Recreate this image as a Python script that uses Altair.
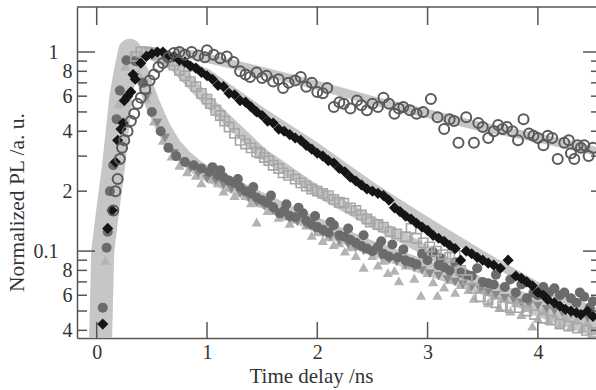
import altair as alt
import pandas as pd

# ---------------- data ----------------
# open circles (slow decay)
oc_t = [0.15,0.17,0.19,0.21,0.23,0.25,0.28,0.31,0.34,0.37,0.40,0.44,0.48,0.52,0.56,0.60,0.65,0.70,0.75,0.80,0.86,0.92,0.98,
        1.00,1.06,1.12,1.18,1.24,1.30,1.35,1.39,1.45,1.50,1.54,1.60,1.65,1.69,1.74,1.80,1.85,1.90,1.95,2.00,2.05,2.09,
        2.15,2.20,2.24,2.30,2.36,2.40,2.45,2.50,2.55,2.60,2.65,2.70,2.74,2.78,2.84,2.90,2.96,3.03,3.09,3.15,3.20,3.24,
        3.28,3.35,3.42,3.46,3.50,3.55,3.60,3.64,3.68,3.72,3.77,3.82,3.87,3.92,3.96,4.00,4.05,4.09,4.13,4.18,4.24,4.28,
        4.30,4.33,4.36,4.39,4.42,4.46,4.50]
oc_y = [0.16,0.20,0.23,0.29,0.33,0.36,0.40,0.45,0.49,0.55,0.59,0.65,0.72,0.77,0.84,0.88,0.94,0.99,1.00,0.97,1.00,0.96,0.94,
        1.02,0.97,0.93,0.95,0.89,0.80,0.77,0.75,0.79,0.74,0.76,0.71,0.73,0.66,0.70,0.72,0.75,0.67,0.70,0.63,0.62,0.66,
        0.53,0.56,0.55,0.52,0.57,0.54,0.51,0.55,0.53,0.59,0.55,0.49,0.52,0.53,0.51,0.49,0.50,0.58,0.47,0.41,0.46,0.45,
        0.35,0.47,0.35,0.44,0.42,0.37,0.40,0.43,0.41,0.42,0.40,0.36,0.46,0.39,0.38,0.37,0.34,0.38,0.37,0.29,0.35,0.36,
        0.31,0.29,0.34,0.33,0.34,0.30,0.33]

# black diamonds
dm_t = [0.055,0.10,0.14,0.17,0.19,0.22,0.24,0.25,0.28,0.31,0.33,0.35,0.40,0.45,0.50,0.55,0.60,0.65,0.70,0.75,0.80,
        0.85,0.90,0.95,1.00,1.05,1.10,1.15,1.20,1.25,1.30,1.35,1.40,1.45,1.50,1.55,1.60,1.65,1.70,1.75,1.80,1.85,1.90,
        1.95,2.00,2.05,2.10,2.15,2.20,2.25,2.30,2.35,2.40,2.45,2.50,2.55,2.60,2.65,2.70,2.75,2.80,2.85,2.90,2.95,3.00,
        3.05,3.10,3.15,3.20,3.25,3.30,3.35,3.40,3.45,3.50,3.55,3.60,3.66,3.73,3.80,3.85,3.90,3.95,4.00,4.05,4.09,4.15,
        4.20,4.25,4.30,4.35,4.39,4.45,4.50]
dm_y = [0.043,0.13,0.16,0.28,0.36,0.41,0.44,0.57,0.60,0.63,0.77,0.73,0.88,0.95,0.98,1.00,1.00,0.96,0.95,0.91,0.89,
        0.85,0.83,0.79,0.76,0.73,0.68,0.67,0.62,0.61,0.57,0.56,0.53,0.50,0.48,0.45,0.44,0.41,0.40,0.385,0.37,0.36,0.34,
        0.325,0.31,0.30,0.285,0.277,0.26,0.25,0.235,0.225,0.215,0.205,0.20,0.195,0.19,0.18,0.165,0.158,0.15,0.145,0.138,0.132,0.127,
        0.12,0.116,0.112,0.107,0.103,0.09,0.10,0.097,0.093,0.09,0.087,0.085,0.082,0.09,0.075,0.073,0.07,0.067,0.062,0.06,0.057,0.055,
        0.053,0.051,0.05,0.049,0.048,0.05,0.047]

# open squares
sq_t = [0.35,0.40,0.45,0.50,0.55,0.60,0.65,0.70,0.75,0.80,0.85,0.90,0.95,1.00,1.03,1.08,1.12,1.16,1.20,1.25,1.30,
        1.35,1.40,1.45,1.48,1.52,1.56,1.60,1.65,1.69,1.74,1.80,1.85,1.90,1.95,2.00,2.05,2.10,2.15,2.20,2.24,2.30,2.35,
        2.40,2.45,2.48,2.55,2.60,2.66,2.72,2.80,2.85,2.90,2.96,3.02,3.08,3.14,3.20,3.25,3.30,3.36,3.42,3.48,3.55,3.62,
        3.68,3.75,3.83,3.90,3.97,4.05,4.12,4.20,4.28,4.36,4.44,4.50]
sq_y = [0.95,1.00,1.00,0.99,0.97,0.93,0.90,0.86,0.81,0.76,0.71,0.67,0.62,0.58,0.55,0.51,0.48,0.45,0.42,0.39,0.36,
        0.345,0.33,0.315,0.31,0.295,0.285,0.27,0.26,0.247,0.24,0.23,0.22,0.212,0.205,0.20,0.195,0.19,0.182,0.176,0.174,0.165,0.16,
        0.152,0.145,0.14,0.136,0.132,0.125,0.122,0.118,0.13,0.116,0.11,0.105,0.10,0.096,0.093,0.095,0.08,0.072,0.065,0.059,0.057,0.055,
        0.053,0.052,0.052,0.05,0.048,0.046,0.045,0.043,0.042,0.041,0.040,0.039]

# dark filled circles
fc_t = [0.055,0.09,0.10,0.12,0.15,0.18,0.21,0.27,0.35,0.42,0.50,0.58,0.65,0.72,0.80,0.88,0.95,1.05,1.10,1.15,1.20,1.25,
        1.30,1.35,1.40,1.45,1.50,1.55,1.60,1.66,1.70,1.75,1.80,1.87,1.90,1.95,2.00,2.05,2.10,2.15,2.20,2.25,2.30,2.35,
        2.40,2.45,2.50,2.55,2.60,2.65,2.73,2.80,2.85,2.90,3.00,3.05,3.10,3.15,3.20,3.30,3.35,3.40,3.50,3.55,3.60,3.70,
        3.80,3.90,3.96,4.00,4.10,4.15,4.24,4.30,4.35,4.42,4.50,
        1.02,1.12,1.28,1.42,1.58,1.72,1.83,1.98,2.12,2.28,2.42,2.58,2.68,2.78,2.95,3.12,3.25,3.45,3.62,3.75,3.85,
        4.05,4.20,4.38,4.47]
fc_y = [0.052,0.104,0.125,0.20,0.27,0.46,0.64,0.91,0.90,0.70,0.50,0.40,0.33,0.30,0.28,0.27,0.26,0.264,0.24,0.235,0.226,0.22,
        0.21,0.20,0.195,0.186,0.18,0.175,0.166,0.155,0.16,0.15,0.148,0.155,0.142,0.136,0.132,0.128,0.124,0.135,0.12,0.118,0.114,0.11,
        0.106,0.103,0.10,0.105,0.097,0.094,0.093,0.09,0.088,0.086,0.09,0.099,0.085,0.083,0.08,0.078,0.076,0.075,0.07,0.069,0.068,0.066,
        0.062,0.058,0.062,0.06,0.062,0.065,0.062,0.058,0.055,0.059,0.056,
        0.25,0.255,0.23,0.21,0.19,0.172,0.165,0.15,0.14,0.13,0.12,0.112,0.108,0.102,0.097,0.092,0.088,0.082,0.076,0.072,0.068,
        0.066,0.060,0.062,0.052]

# light grey up-triangles
tu_t = [0.08,0.12,0.20,0.26,0.32,0.38,0.45,0.52,0.60,0.68,0.75,0.82,0.90,1.00,1.05,1.10,1.20,1.30,1.35,1.45,1.50,
        1.60,1.70,1.80,1.85,1.90,2.00,2.05,2.10,2.20,2.30,2.42,2.50,2.60,2.64,2.74,2.80,2.94,3.00,3.09,3.20,3.30,3.37,
        3.50,3.60,3.70,3.80,3.90,3.95,4.05,4.15,4.25,4.35,4.45,
        0.95,1.15,1.25,1.40,1.55,1.65,1.75,1.95,2.15,2.25,2.35,2.55,2.70,2.88,3.05,3.15,3.25,3.42,3.55,3.65,3.75,
        3.85,4.00,4.10,4.20,4.30,4.40,4.50]
tu_y = [0.09,0.20,0.55,0.85,0.95,0.78,0.58,0.45,0.36,0.30,0.27,0.25,0.24,0.247,0.23,0.22,0.21,0.20,0.19,0.14,0.175,
        0.16,0.15,0.145,0.148,0.135,0.125,0.113,0.118,0.11,0.105,0.083,0.095,0.09,0.078,0.071,0.085,0.060,0.078,0.060,0.072,0.068,0.064,
        0.064,0.060,0.058,0.055,0.052,0.042,0.050,0.048,0.047,0.045,0.044,
        0.22,0.20,0.19,0.175,0.16,0.148,0.138,0.12,0.108,0.10,0.095,0.085,0.08,0.073,0.07,0.066,0.062,0.058,0.055,0.052,0.05,
        0.048,0.046,0.045,0.043,0.042,0.041,0.040]

# mid grey down-triangles
td_t = [0.36,0.46,0.55,0.62,0.70,0.78,0.85,0.92,1.00,1.08,1.15,1.22,1.30,1.38,1.45,1.52,1.60,1.68,1.75,1.82,1.90,
        1.98,2.05,2.12,2.20,2.28,2.35,2.42,2.50,2.58,2.65,2.72,2.80,2.88,2.95,3.02,3.10,3.18,3.25,3.32,3.40,3.48,3.55,
        3.62,3.70,3.78,3.85,3.92,4.00,4.08,4.15,4.22,4.30,4.38,4.45]
td_y = [0.88,0.60,0.44,0.37,0.31,0.28,0.26,0.245,0.23,0.225,0.215,0.205,0.195,0.185,0.175,0.168,0.16,0.152,0.145,0.14,0.135,
        0.128,0.123,0.118,0.112,0.108,0.104,0.10,0.098,0.094,0.09,0.088,0.085,0.082,0.08,0.077,0.075,0.072,0.07,0.068,0.066,0.064,0.062,
        0.06,0.058,0.057,0.055,0.054,0.053,0.051,0.05,0.049,0.048,0.047,0.046]

# fitted curves (thick light grey)
rise_t = [0.035,0.045,0.055,0.10,0.15,0.22,0.26,0.30]
rise_y = [0.036,0.06,0.10,0.16,0.26,0.60,0.80,1.02]
ffit_t = [0.30,0.40,0.50,0.60,0.70,0.80,0.90,1.00,1.25,1.50,1.75,2.00,2.50,3.00,3.50,4.00,4.50]
ffit_y = [1.02,0.80,0.56,0.42,0.34,0.295,0.265,0.245,0.21,0.18,0.155,0.135,0.103,0.082,0.066,0.054,0.045]
sfit_t = [0.30,0.45,0.70,1.00,1.50,2.00,2.50,3.00,3.50,4.00,4.50]
sfit_y = [1.02,1.00,0.86,0.57,0.31,0.20,0.14,0.10,0.068,0.050,0.040]
dfit_t = [0.30,0.55,1.00,1.50,2.00,2.50,3.00,3.50,4.00,4.50]
dfit_y = [1.02,1.00,0.78,0.50,0.33,0.21,0.14,0.095,0.066,0.050]
cfit_t = [0.75,1.00,1.50,2.00,2.50,3.00,3.50,4.00,4.50]
cfit_y = [1.00,0.93,0.80,0.68,0.57,0.49,0.42,0.37,0.32]

# axis ticks / labels
x_ticks = [0, 1, 2, 3, 4]
y_major = [1.0, 0.1]
y_minor = [0.04, 0.05, 0.06, 0.07, 0.08, 0.09, 0.2, 0.3, 0.4, 0.5, 0.6, 0.7, 0.8, 0.9]
y_labels = [1.0, 0.8, 0.6, 0.4, 0.2, 0.1, 0.08, 0.06, 0.04]

# ---------------- chart ----------------
W, H = 519, 331
FONT = "Liberation Serif"
AX = "#555555"
TXT = "#333333"
FITC = "#c6c6c6"

xscale = alt.Scale(domain=[-0.1786, 4.527], nice=False, zero=False)
yscale = alt.Scale(type="log", domain=[0.0366, 1.683], nice=False)

xaxis = alt.Axis(values=x_ticks, format="d", ticks=False, grid=False, domainColor=AX, domainWidth=1.5,
                 labelFont=FONT, labelFontSize=20, labelColor=TXT, labelPadding=4, labelFlush=False,
                 title="Time delay /ns", titleFont=FONT, titleFontSize=21, titleFontWeight="normal",
                 titleColor=TXT, titleX=234, titleY=44, titleBaseline="alphabetic")
yaxis = alt.Axis(values=y_labels, ticks=False, grid=False, domainColor=AX, domainWidth=1.5,
                 labelFont=FONT, labelFontSize=20, labelColor=TXT, labelOverlap=False, labelFlush=False,
                 labelExpr="datum.value > 0.95 ? '1' : ((datum.value > 0.099 && datum.value < 0.101) ? '0.1' : "
                           "(datum.value > 0.1 ? format(datum.value*10, '.0f') : format(datum.value*100, '.0f')))",
                 labelPadding={"condition": {"test": "datum.value > 0.95 || (datum.value > 0.099 && datum.value < 0.101)",
                                             "value": 19}, "value": 5},
                 title="Normalized PL /a. u.", titleFont=FONT, titleFontSize=21.5, titleFontWeight="normal",
                 titleColor=TXT, titleX=-60, titleY=195, titleBaseline="middle")

X = lambda: alt.X("t:Q", scale=xscale, axis=xaxis)
Y = lambda: alt.Y("y:Q", scale=yscale, axis=yaxis)


def frame(t, y):
    return pd.DataFrame({"t": t, "y": y})


def fit_layer(t, y, w):
    return alt.Chart(frame(t, y)).mark_line(color=FITC, strokeWidth=w, strokeCap="round",
                                            strokeJoin="round", clip=True).encode(x=X(), y=Y())


def pts(t, y, **kw):
    return alt.Chart(frame(t, y)).mark_point(clip=True, **kw).encode(x=X(), y=Y())


layers = [
    fit_layer(cfit_t, cfit_y, 9),
    fit_layer(dfit_t, dfit_y, 9),
    fit_layer(sfit_t, sfit_y, 11),
    fit_layer(ffit_t, ffit_y, 15),
    fit_layer(rise_t, rise_y, 23),
    pts(tu_t, tu_y, shape="triangle-up", filled=True, color="#b3b3b3", size=105, opacity=1),
    pts(td_t, td_y, shape="triangle-down", filled=True, color="#8a8a8a", size=95, opacity=1),
    pts(fc_t, fc_y, shape="circle", filled=True, color="#6b6b6b", size=100, opacity=1),
    pts(sq_t, sq_y, shape="square", filled=False, color="#a6a6a6", strokeWidth=1.6, size=85, opacity=1),
    pts(dm_t, dm_y, shape="diamond", filled=True, color="#151515", size=125, opacity=1),
    pts(oc_t, oc_y, shape="circle", filled=False, color="#5a5a5a", strokeWidth=2, size=100, opacity=1),
]

ymaj = frame([0] * len(y_major), y_major)
ymin = frame([0] * len(y_minor), y_minor)
xt = frame(x_ticks, [1] * len(x_ticks))

rule = dict(color=AX, strokeWidth=1.5)
layers += [
    alt.Chart(ymaj).mark_rule(**rule).encode(y=Y(), x=alt.value(0), x2=alt.value(18)),
    alt.Chart(ymin).mark_rule(**rule).encode(y=Y(), x=alt.value(0), x2=alt.value(10)),
    alt.Chart(ymaj).mark_rule(**rule).encode(y=Y(), x=alt.value(W), x2=alt.value(W - 13)),
    alt.Chart(ymin).mark_rule(**rule).encode(y=Y(), x=alt.value(W), x2=alt.value(W - 5)),
    alt.Chart(xt).mark_rule(**rule).encode(x=X(), y=alt.value(0), y2=alt.value(18)),
    alt.Chart(xt).mark_rule(**rule).encode(x=X(), y=alt.value(H), y2=alt.value(H - 16)),
    alt.Chart(xt.head(1)).mark_rule(**rule).encode(x=alt.value(0), x2=alt.value(W), y=alt.value(0)),
]

chart = alt.layer(*layers).properties(
    width=W, height=H,
    autosize=alt.AutoSizeParams(type="none"),
    padding={"left": 77, "top": 7, "right": 0, "bottom": 390 - 7 - H},
    background="white",
).configure_view(stroke=None)

chart.save("out.html", embed_options={"renderer": "svg", "actions": False})
